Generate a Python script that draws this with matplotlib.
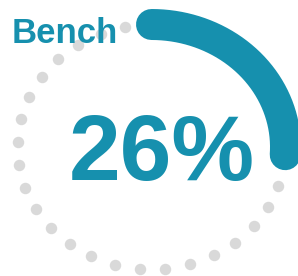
import numpy as np
import matplotlib
matplotlib.use("Agg")
import matplotlib.pyplot as plt

# Data
label = "Bench"
percent = 26

teal = "#1690ae"
grey = "#d9d9d9"

plt.rcParams['font.family'] = ['Liberation Sans', 'DejaVu Sans']

fig = plt.figure(figsize=(2.98, 2.76), dpi=100)
ax = fig.add_axes([0, 0, 1, 1])
ax.set_xlim(-1.1306, 1.0933)
ax.set_ylim(-1.053, 1.2)
ax.axis('off')

# dotted track, 33 dots all round (the ones under the arc get covered)
n_dots = 33
ang = np.deg2rad(-18.6 - np.arange(n_dots) * 360.0 / n_dots)
ax.scatter(np.cos(ang), np.sin(ang), s=68, color=grey, linewidths=0, zorder=1)

# progress arc, clockwise from 12 o'clock
t = np.deg2rad(np.linspace(90, 90 - percent / 100 * 360, 200))
ax.plot(np.cos(t), np.sin(t), color=teal, lw=22.3, solid_capstyle='round', zorder=2)

ax.text(0.040, 0.844, label, transform=ax.transAxes, ha='left', va='baseline',
        fontsize=25, fontweight='bold', color=teal, zorder=3)
ax.text(0.542, 0.348, str(percent) + "%", transform=ax.transAxes, ha='center', va='baseline',
        fontsize=67, fontweight='bold', color=teal, zorder=3)

fig.savefig("out.png", dpi=100)
